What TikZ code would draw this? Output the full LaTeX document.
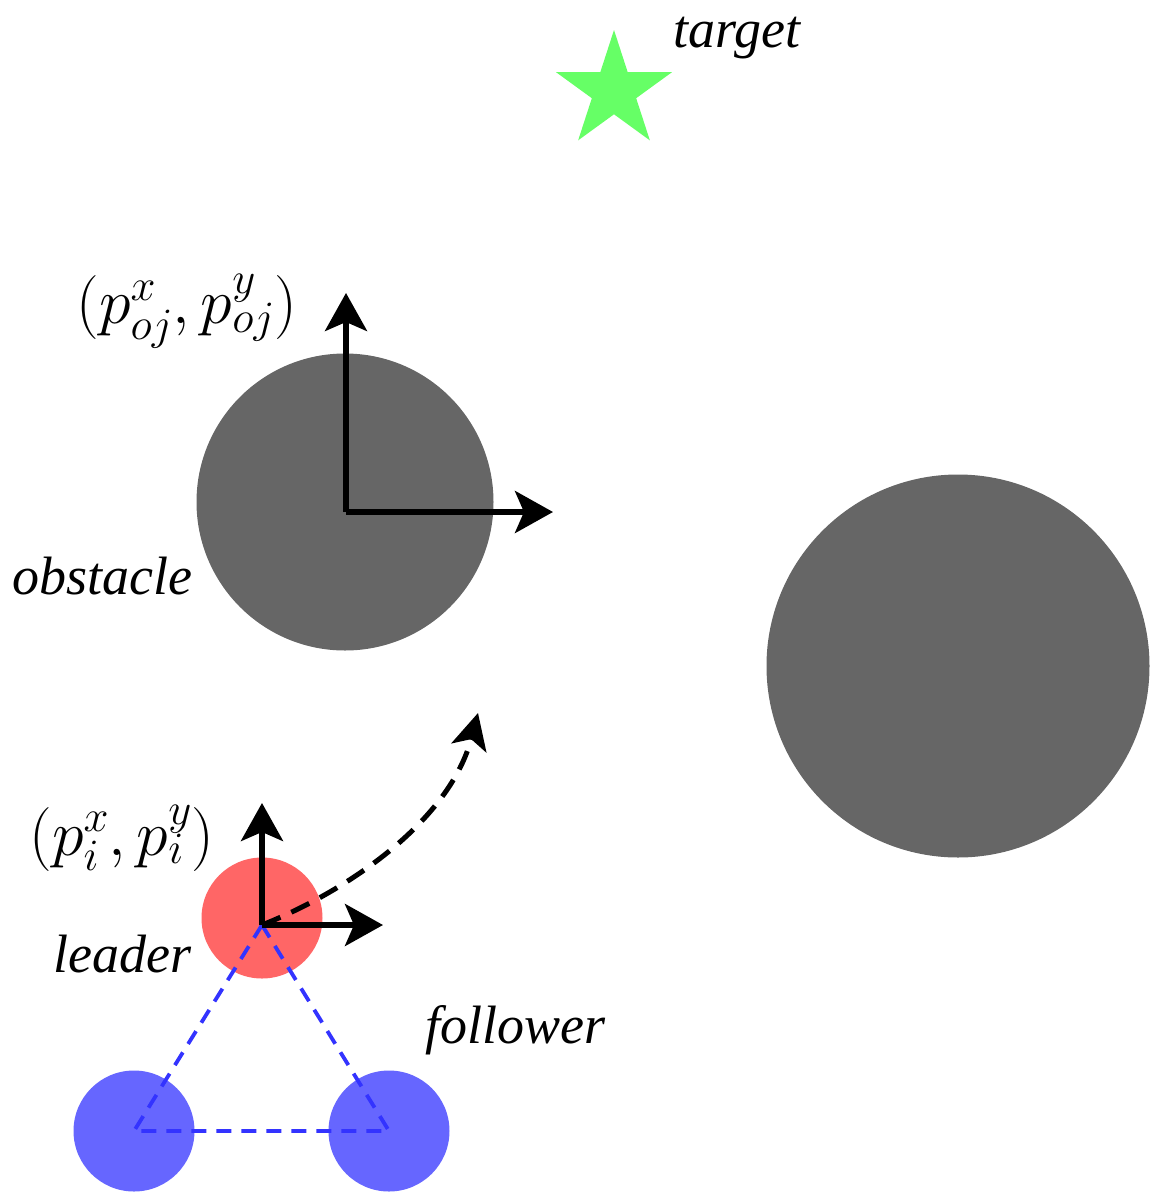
\RequirePackage{fix-cm}
\documentclass[tikz,border=0pt]{standalone}
\usepackage{fontspec}
\newfontfamily\tfont{Liberation Serif}
\usetikzlibrary{arrows.meta,shapes.geometric}
\definecolor{obsgray}{HTML}{666666}
\definecolor{leadred}{HTML}{FF6666}
\definecolor{follblue}{HTML}{6666FF}
\definecolor{linkblue}{HTML}{3333FF}
\definecolor{stargreen}{HTML}{66FF66}
\begin{document}
\begin{tikzpicture}[x=1pt,y=-1pt,
  lbl/.style={font=\tfont\fontsize{54}{60}\selectfont\itshape, inner sep=0pt},
  mlbl/.style={font=\fontsize{64}{70}\selectfont, inner sep=0pt},
  disc/.style={circle, inner sep=0pt, draw=none},
  axisarrow/.style={line width=5.5pt, -{Stealth[length=38pt,width=42pt,inset=9pt]}},
  patharrow/.style={line width=5pt, dash pattern=on 20pt off 12pt, -{Stealth[length=36pt,width=36pt,inset=9pt]}},
  linkline/.style={line width=3.8pt, linkblue, dash pattern=on 15pt off 10pt}]
\useasboundingbox (0,0) rectangle (1164,1202);
% target
\node[star, star points=5, star point ratio=2.618, minimum size=122pt, inner sep=0pt, fill=stargreen] (star) at (614,91) {};
\node[lbl, anchor=base west] (tgt) at (673,47) {target};
% obstacles
\node[disc, fill=obsgray, minimum size=297pt] (obs1) at (345,502) {};
\node[disc, fill=obsgray, minimum size=383pt] (obs2) at (958,666) {};
\node[lbl, anchor=base west] (obslbl) at (12,594) {obstacle};
% obstacle frame
\coordinate (o1) at (346,512);
\coordinate (o1x) at (553,512);
\coordinate (o1y) at (346,293);
\draw[axisarrow] (o1) -- (o1x);
\draw[axisarrow] (o1) -- (o1y);
\node[mlbl] (o1lbl) at (187,311) {$(p^x_{oj},p^y_{oj})$};
% robots
\node[disc, fill=leadred, minimum size=121pt] (lead) at (262,918) {};
\node[disc, fill=follblue, minimum size=121pt] (f1) at (134,1131) {};
\node[disc, fill=follblue, minimum size=121pt] (f2) at (389,1131) {};
\coordinate (lc) at (262,925);
\coordinate (f1c) at (134,1131);
\coordinate (f2c) at (389,1131);
\draw[linkline] (lc) -- (f1c) -- (f2c) -- cycle;
% leader frame
\coordinate (lx) at (383,925);
\coordinate (ly) at (262,803);
\draw[axisarrow] (lc) -- (lx);
\draw[axisarrow] (lc) -- (ly);
\node[mlbl] (llbl) at (122,838) {$(p^x_i,p^y_i)$};
% path
\coordinate (pend) at (478,713);
\draw[patharrow] (lc) .. controls (350,890) and (450,820) .. (pend);
\node[lbl, anchor=base west] (leadlbl) at (53,972) {leader};
\node[lbl, anchor=base west] (folllbl) at (425,1043) {follower};
\end{tikzpicture}
\end{document}
